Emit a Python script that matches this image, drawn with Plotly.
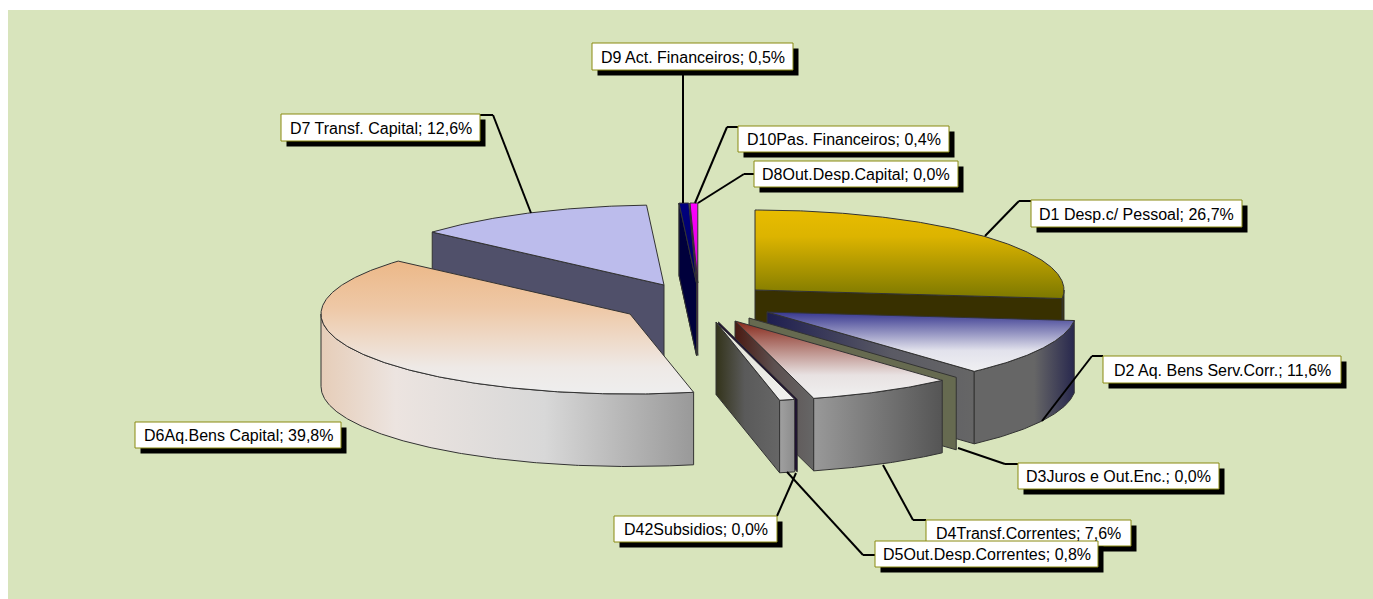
import numpy as np
import plotly.graph_objects as go

# ---- data ----
categories = ["D1 Desp.c/ Pessoal", "D2 Aq. Bens Serv.Corr.", "D3Juros e Out.Enc.",
              "D4Transf.Correntes", "D42Subsidios", "D5Out.Desp.Correntes",
              "D6Aq.Bens Capital", "D7 Transf. Capital", "D8Out.Desp.Capital",
              "D9 Act. Financeiros", "D10Pas. Financeiros"]
shares = [26.7, 11.6, 0.0, 7.6, 0.0, 0.8, 39.8, 12.6, 0.0, 0.5, 0.4]

# ---- geometry / style ----
RX, RY, DEPTH = 309, 80, 72.5
apex = [(755, 290), (767, 312), (749, 318), (735, 321), (718.5, 322), (716, 322),
        (630, 314), (664, 285), (696.5, 283), (696.5, 283), (697.8, 283)]
top_fill = [
    [[0, "#e8bc00"], [0.3, "#dcb400"], [1, "#7c7800"]],
    [[0, "#37378f"], [0.65, "#e2e2ec"], [1, "#f0f0f2"]],
    [[0, "#666a50"], [1, "#666a50"]],
    [[0, "#86281a"], [0.7, "#e8e2e2"], [1, "#f0f0f0"]],
    [[0, "#1a0a30"], [1, "#1a0a30"]],
    [[0, "#dfe0d0"], [1, "#f0f0f0"]],
    [[0, "#ecb888"], [0.35, "#eec8a6"], [0.8, "#eee9e6"], [1, "#eeeeee"]],
    [[0, "#bcbcec"], [1, "#bcbcec"]],
    [[0, "#000080"], [1, "#000080"]],
    [[0, "#000080"], [1, "#00005a"]],
    [[0, "#ff00ff"], [0.7, "#e000e0"], [1, "#400040"]],
]
wall_fill = [
    [[0, "#383000"], [1, "#383000"]],
    [[0, "#666666"], [0.6, "#666666"], [1, "#28284e"]],
    [[0, "#666a50"], [1, "#666a50"]],
    [[0, "#999999"], [1, "#555555"]],
    [[0, "#1a0a30"], [1, "#1a0a30"]],
    [[0, "#a0a0a0"], [1, "#8c8c8c"]],
    [[0, "#e6cdb8"], [0.2, "#ece4e0"], [0.6, "#d8d8d8"], [1, "#999999"]],
    [[0, "#50506a"], [1, "#50506a"]],
    [[0, "#000040"], [1, "#000040"]],
    [[0, "#000040"], [1, "#000040"]],
    [[0, "#500050"], [1, "#500050"]],
]
face_fill = [
    [[0, "#383000"], [1, "#383000"]],
    [[0, "#1e1e50"], [0.6, "#5a5a64"], [1, "#666666"]],
    [[0, "#666a50"], [1, "#666a50"]],
    [[0, "#4a1a12"], [0.5, "#5c5050"], [1, "#666666"]],
    [[0, "#1a0a30"], [1, "#1a0a30"]],
    [[0, "#33331a"], [0.45, "#5a5a5a"], [1, "#666666"]],
    [[0, "#666666"], [1, "#666666"]],
    [[0, "#50506a"], [1, "#50506a"]],
    [[0, "#000040"], [1, "#000040"]],
    [[0, "#00003c"], [1, "#00003c"]],
    [[0, "#500050"], [1, "#500050"]],
]
paint_order = [7, 8, 10, 9, 0, 1, 2, 3, 4, 5, 6]

boxes = [(1031, 200, 1242, 227), (1103, 356, 1341, 383), (1018, 463, 1219, 489),
         (926, 520, 1131, 546), (614, 516, 777, 542), (875, 541, 1098, 567),
         (135, 422, 341, 448), (281, 114, 480, 141), (754, 161, 958, 187),
         (592, 43, 793, 70), (738, 126, 949, 152)]
leaders = [[(1031, 201), (1019, 201), (985, 236)],
           [(1103, 356), (1092, 356), (1042, 421)],
           [(1018, 464), (1005, 464), (958, 448)],
           [(926, 520), (913, 520), (883, 465)],
           [(777, 516), (796, 473)],
           [(875, 555), (863, 555), (787, 472)],
           [],
           [(480, 115), (493, 115), (531, 213)],
           [(754, 174), (744, 174), (698, 203)],
           [(683, 70), (683, 203)],
           [(738, 127), (727, 127), (695, 203)]]

LINE = "#333333"
fig = go.Figure()


def poly(xs, ys, scale, kind):
    if kind == "vertical":  # the y axis runs downwards, so the scale is flipped
        scale = [[1 - s, c] for s, c in reversed(scale)]
    fig.add_trace(go.Scatter(
        x=list(xs) + [xs[0]], y=list(ys) + [ys[0]], mode="lines", fill="toself",
        line=dict(color=LINE, width=1),
        fillgradient=dict(type=kind, colorscale=scale),
        hoverinfo="skip", showlegend=False))


def rim(a, b, ax, ay):
    t = np.radians(np.linspace(a, b, max(2, int(abs(b - a) * 2) + 2)))
    return ax + RX * np.sin(t), ay - RY * np.cos(t)


edges = np.concatenate([[0], np.cumsum(shares)]) * 3.6
for i in paint_order:
    a, b = edges[i], edges[i + 1]
    ax, ay = apex[i]
    # radial side faces that look towards the viewer
    for ang, vis in ((a, np.sin(np.radians(a)) < -1e-6), (b, np.sin(np.radians(b)) > 1e-6)):
        if vis:
            rx_, ry_ = rim(ang, ang, ax, ay)
            px, py = rx_[0], ry_[0]
            poly([ax, px, px, ax], [ay, py, py + DEPTH, ay + DEPTH], face_fill[i], "horizontal")
    # outer wall on the front half
    lo, hi = max(a, 90), min(b, 270)
    if hi > lo:
        x_, y_ = rim(lo, hi, ax, ay)
        poly(list(x_) + list(x_[::-1]), list(y_) + list(y_[::-1] + DEPTH), wall_fill[i], "horizontal")
    # top
    if b > a:
        x_, y_ = rim(a, b, ax, ay)
        poly([ax] + list(x_), [ay] + list(y_), top_fill[i], "vertical")

shapes = [dict(type="rect", xref="x", yref="y", x0=8, y0=10, x1=1373, y1=599,
               fillcolor="#d8e4bc", line_width=0, layer="below")]
for pts in leaders:
    for p, q in zip(pts, pts[1:]):
        shapes.append(dict(type="line", xref="x", yref="y", x0=p[0], y0=p[1], x1=q[0], y1=q[1],
                           line=dict(color="black", width=2)))
annotations = []
for i in range(len(categories)):
    x0, y0, x1, y1 = boxes[i]
    shapes.append(dict(type="rect", xref="x", yref="y", x0=x0 + 5.5, y0=y0 + 5.5, x1=x1 + 5.5, y1=y1 + 5.5,
                       fillcolor="black", line_width=0))
    shapes.append(dict(type="rect", xref="x", yref="y", x0=x0, y0=y0, x1=x1, y1=y1,
                       fillcolor="white", line=dict(color="#8a8a10", width=1)))
    text = f"{categories[i]}; " + f"{shares[i]:.1f}".replace(".", ",") + "%"
    annotations.append(dict(x=(x0 + x1) / 2, y=(y0 + y1) / 2 + 0.7, xref="x", yref="y", text=text,
                            showarrow=False, font=dict(family="Liberation Sans", size=16, color="black")))

fig.update_layout(
    width=1373, height=599, margin=dict(l=0, r=0, t=0, b=0),
    paper_bgcolor="white", plot_bgcolor="white", showlegend=False,
    shapes=shapes, annotations=annotations,
    xaxis=dict(range=[0, 1373], visible=False, fixedrange=True),
    yaxis=dict(range=[599, 0], visible=False, fixedrange=True),
)
fig.write_html("out.html", config={"displayModeBar": False},
               post_script="document.body.style.margin='0';document.body.style.overflow='hidden';")
